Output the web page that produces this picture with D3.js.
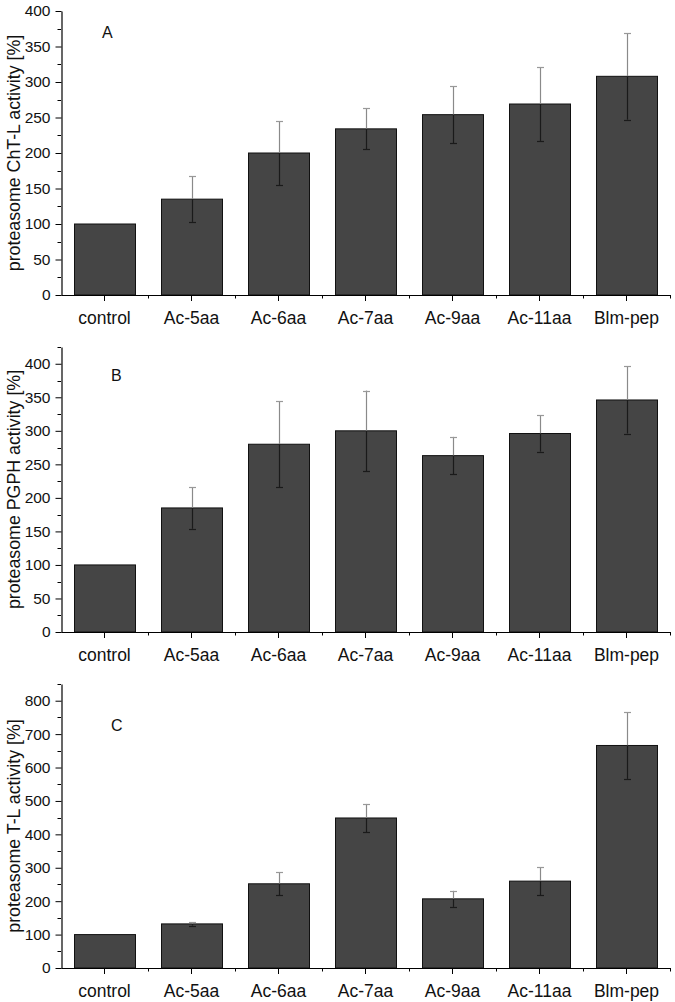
<!DOCTYPE html>
<html><head><meta charset="utf-8">
<script src="https://cdn.jsdelivr.net/npm/d3@7/dist/d3.min.js"></script>
<style>body{margin:0;background:#fff}svg{display:block}</style>
</head><body><svg id="c" width="675" height="1002"></svg>
<script>
const categories = ["control","Ac-5aa","Ac-6aa","Ac-7aa","Ac-9aa","Ac-11aa","Blm-pep"];
const valuesA = [100,135,200,234,254,269,308];
const errorsA = [0,32,45,29,40,52,61];
const valuesB = [100,185,280,300,263,296,346];
const errorsB = [0,31,64,60,28,27,50];
const valuesC = [100,132,252,449,207,260,666];
const errorsC = [0,5,34,42,24,42,100];
const ticksA = [0,50,100,150,200,250,300,350,400];
const ticksB = [0,50,100,150,200,250,300,350,400];
const ticksC = [0,100,200,300,400,500,600,700,800];

const panels = [
  {label:"A", ylabel:"proteasome ChT-L activity [%]", values:valuesA, errors:errorsA, ticks:ticksA, max:400, minor:25, top:11, bottom:295, lx:102, ly:37.5},
  {label:"B", ylabel:"proteasome PGPH activity [%]", values:valuesB, errors:errorsB, ticks:ticksB, max:425, minor:25, top:347, bottom:632, lx:111, ly:380.5},
  {label:"C", ylabel:"proteasome T-L activity [%]", values:valuesC, errors:errorsC, ticks:ticksC, max:850, minor:50, top:684, bottom:968, lx:111, ly:730.5}
];

const svg = d3.select("#c");
const font = "'Liberation Sans', Arial, sans-serif";
const x = d3.scaleBand().domain(categories).range([61, 670]).paddingInner(0.3).paddingOuter(0.15);

panels.forEach(p => {
  const y = d3.scaleLinear().domain([0, p.max]).range([p.bottom, p.top]);
  const g = svg.append("g");

  // bars
  g.selectAll("rect.bar").data(categories).join("rect")
    .attr("x", d => Math.round(x(d)) + 0.5)
    .attr("y", (d,i) => y(p.values[i]) )
    .attr("width", Math.round(x.bandwidth()))
    .attr("height", (d,i) => p.bottom - y(p.values[i]))
    .attr("fill", "#454545").attr("stroke", "#111").attr("stroke-width", 1);

  // error bars
  categories.forEach((c,i) => {
    if (!p.errors[i]) return;
    const cx = Math.round(x(c) + x.bandwidth()/2) + 0.5;
    const yt = y(p.values[i]);
    const y1 = y(p.values[i] + p.errors[i]), y2 = y(p.values[i] - p.errors[i]);
    g.append("line").attr("x1", cx).attr("x2", cx).attr("y1", y1).attr("y2", yt)
      .attr("stroke", "#8a8a8a").attr("stroke-width", 1.2);
    g.append("line").attr("x1", cx).attr("x2", cx).attr("y1", yt).attr("y2", y2)
      .attr("stroke", "#1a1a1a").attr("stroke-width", 1.2);
    g.append("line").attr("x1", cx-3.5).attr("x2", cx+3.5)
      .attr("y1", Math.round(y1)+0.5).attr("y2", Math.round(y1)+0.5)
      .attr("stroke", "#999").attr("stroke-width", 1.2);
    g.append("line").attr("x1", cx-3.5).attr("x2", cx+3.5)
      .attr("y1", Math.round(y2)+0.5).attr("y2", Math.round(y2)+0.5)
      .attr("stroke", "#1a1a1a").attr("stroke-width", 1.2);
  });

  // y axis minor ticks
  const minorTicks = d3.range(0, p.max + 0.001, p.minor).filter(v => !p.ticks.includes(v));
  g.selectAll("line.ymin").data(minorTicks).join("line")
    .attr("x1", 57.5).attr("x2", 61).attr("y1", d => Math.round(y(d))+0.5).attr("y2", d => Math.round(y(d))+0.5)
    .attr("stroke", "#000");
  const yAxis = d3.axisLeft(y).tickValues(p.ticks).tickSize(6).tickPadding(5).tickSizeOuter(0);
  const ya = g.append("g").attr("transform", "translate(61.5,0)").call(yAxis);
  ya.select(".domain").attr("stroke", "#000").attr("stroke-width", 1.2);
  ya.selectAll("text").attr("font-family", font).attr("font-size", 15.5).attr("fill", "#111");

  // x axis
  const bounds = categories.map(c => x(c) - x.step()*x.paddingInner()/2).slice(1).concat([670]);
  g.selectAll("line.xmin").data(bounds).join("line")
    .attr("x1", d => Math.round(d)+0.5).attr("x2", d => Math.round(d)+0.5)
    .attr("y1", p.bottom).attr("y2", p.bottom + 3.5).attr("stroke", "#000");
  const xAxis = d3.axisBottom(x).tickSize(6).tickSizeOuter(0).tickPadding(11);
  const xa = g.append("g").attr("transform", `translate(0,${p.bottom})`).call(xAxis);
  xa.select(".domain").attr("stroke", "#000").attr("stroke-width", 1.2);
  xa.selectAll("text").attr("font-family", font).attr("font-size", 17.5).attr("fill", "#111");

  // y label
  g.append("text").attr("transform", `translate(20,${(p.top+p.bottom)/2}) rotate(-90)`)
    .attr("text-anchor", "middle").attr("font-family", font).attr("font-size", 17.8).attr("fill", "#111")
    .text(p.ylabel);
  // panel letter
  g.append("text").attr("x", p.lx).attr("y", p.ly).attr("font-family", font).attr("font-size", 16).attr("fill", "#111").text(p.label);
});
</script></body></html>
